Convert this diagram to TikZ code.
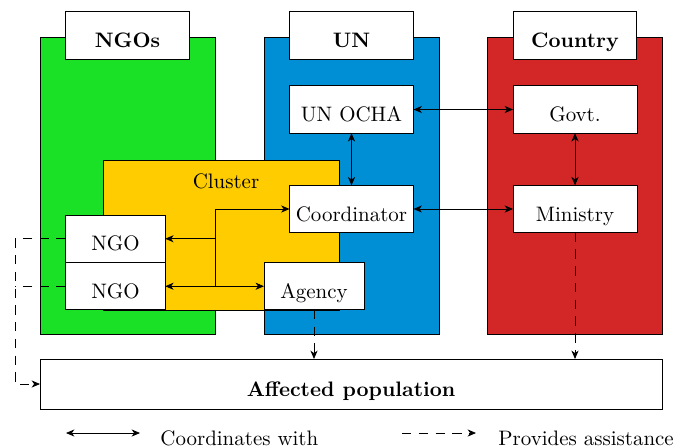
\documentclass[tikz,border=0pt]{standalone}
\usetikzlibrary{arrows.meta}
\definecolor{ngogreen}{RGB}{26,224,38}
\definecolor{unblue}{RGB}{0,143,213}
\definecolor{ctryred}{RGB}{211,38,38}
\definecolor{clusteryellow}{RGB}{255,204,0}
\begin{document}
\begin{tikzpicture}[x=0.4775pt,y=-0.4775pt,
  >={Stealth[length=4pt,width=3.4pt,inset=1.2pt]},
  every path/.style={line width=0.4pt},
  group/.style={draw, inner sep=0pt, outer sep=0pt, minimum width=83.6pt, minimum height=141.8pt},
  box/.style={draw, fill=white, inner sep=0pt, outer sep=0pt, text height=11.6pt, text depth=0pt, minimum height=22.6pt},
  titlebox/.style={box, minimum width=58.9pt, font=\bfseries},
  wide/.style={box, minimum width=59.2pt},
  narrow/.style={box, minimum width=47.5pt},
  link/.style={<->},
  dashline/.style={dash pattern=on 4.5pt off 3.5pt},
  assist/.style={->, dashline}]
\useasboundingbox (0,0) rectangle (675,447);
% groups
\node[group, fill=ngogreen] (ngogrp) at (127.5,185.5) {};
\node[group, fill=unblue] (ungrp) at (351.5,185.5) {};
\node[group, fill=ctryred] (ctrygrp) at (575,185.5) {};
\node[titlebox] (ngot) at (127.5,35.5) {NGOs};
\node[titlebox] (unt) at (351.5,35.5) {UN};
\node[titlebox] (ctryt) at (575,35.5) {Country};
% cluster
\node[draw, fill=clusteryellow, inner sep=0pt, outer sep=0pt, minimum width=112.7pt, minimum height=71.6pt] (cluster) at (221,235) {};
\node (clusterlbl) at (226,181) {Cluster};
% boxes
\node[wide] (unocha) at (351.5,109.5) {UN OCHA};
\node[wide] (coord) at (351.5,209) {Coordinator};
\node[wide] (govt) at (575,109.5) {Govt.};
\node[wide] (ministry) at (575,209) {Ministry};
\node[narrow] (ngo1) at (115.5,238.75) {NGO};
\node[narrow] (ngo2) at (115.5,286.25) {NGO};
\node[narrow, minimum width=47.8pt] (agency) at (314,286.25) {Agency};
\node[box, minimum width=297pt, minimum height=23.9pt, font=\bfseries] (affected) at (351,384) {Affected population};
% coordination links
\draw[link] (unocha) -- (govt);
\draw[link] (coord) -- (ministry);
\draw[link] (unocha) -- (coord);
\draw[link] (govt) -- (ministry);
\draw[link] (ngo2.east) -- (agency.west);
\coordinate (j) at (215,286.25);
\draw[->] (j) |- (coord.west);
\draw[->] (j |- ngo1.east) -- (ngo1.east);
% assistance
\draw[assist] (agency.south) -- (agency.south |- affected.north);
\draw[assist] (ministry.south) -- (ministry.south |- affected.north);
\coordinate (lx) at (15,384);
\draw[assist] (ngo1.west) -| (lx) -- (affected.west);
\draw[dashline] (ngo2.west) -- (ngo2.west -| lx);
% legend
\coordinate (la1) at (66,433);
\coordinate (la2) at (140,433);
\coordinate (lb1) at (402,433);
\coordinate (lb2) at (476,433);
\draw[link] (la1) -- (la2);
\node[anchor=west, inner sep=0pt] (lta) at (160,438) {Coordinates with};
\draw[assist] (lb1) -- (lb2);
\node[anchor=west, inner sep=0pt] (ltb) at (498,438) {Provides assistance};
\end{tikzpicture}
\end{document}
